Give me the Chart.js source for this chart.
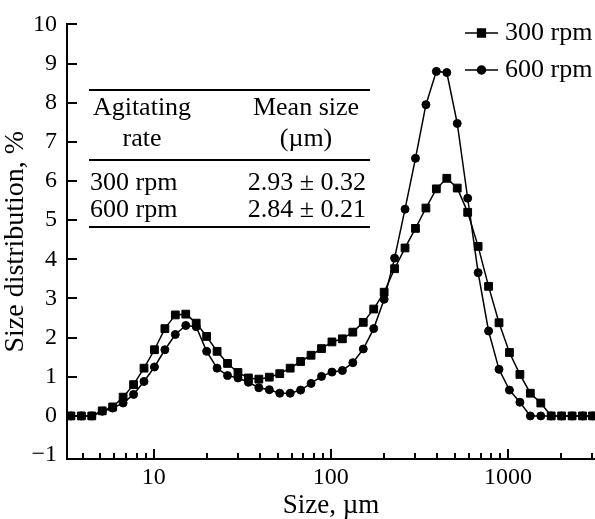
<!DOCTYPE html>
<html>
<head>
<meta charset="utf-8">
<script src="https://cdn.jsdelivr.net/npm/chart.js@4/dist/chart.umd.min.js"></script>
<style>
  html,body{margin:0;padding:0;background:#fff}
  #c{display:block}
</style>
</head>
<body>
<canvas id="c" width="595" height="519"></canvas>
<script>
// particle size bins (µm) and distribution (%)
const sizes=[3.409,3.905,4.472,5.122,5.867,6.720,7.697,8.816,10.097,11.565,13.246,15.172,17.377,
  19.904,22.797,26.111,29.907,34.255,39.234,44.938,51.471,58.953,67.523,77.340,88.583,101.46,
  116.21,133.103,152.453,174.616,200.0,229.075,262.376,300.518,344.206,394.244,451.556,517.2,
  592.387,678.504,777.141,890.116,1019.51,1167.73,1337.48,1531.91,1754.6,2009.68,2301.84,2636.47,3000];
const rpm300=[0,0,0,0.13,0.23,0.48,0.80,1.22,1.69,2.23,2.58,2.60,2.37,
  2.03,1.65,1.34,1.11,0.97,0.94,0.99,1.08,1.22,1.39,1.55,1.72,1.89,
  1.97,2.14,2.39,2.73,3.16,3.76,4.29,4.79,5.31,5.80,
  6.07,5.82,5.20,4.33,3.31,2.38,1.62,1.06,0.58,0.33,0,0,0,0,0];
const rpm600=[0,0,0,0.12,0.20,0.33,0.55,0.88,1.25,1.69,2.08,2.31,2.28,
  1.65,1.22,1.03,0.97,0.86,0.72,0.67,0.58,0.58,0.66,0.83,1.01,1.12,
  1.16,1.36,1.71,2.23,2.98,4.03,5.28,6.58,7.95,8.80,
  8.77,7.47,5.56,3.66,2.17,1.19,0.66,0.35,0,0,0,0,0,0,0];
const seriesLabels=['300 rpm','600 rpm'];
const xTickLabels=[10,100,1000];
const tableHead=[['Agitating','rate'],['Mean size','(µm)']];
const tableRates=['300 rpm','600 rpm'];
const tableMeans=['2.93 ± 0.32','2.84 ± 0.21'];

const FONT='"Liberation Serif","Times New Roman",serif';
Chart.defaults.font.family=FONT;
Chart.defaults.color='#000';

const pts=arr=>arr.map((v,i)=>({x:sizes[i],y:v}));
const styles=['rect','circle'];
const radii=[5.5,4];

function isWholeLog(v){
  const e=Math.floor(Math.log10(v)+1e-9);
  const m=v/Math.pow(10,e);
  return {ok:Math.abs(m-Math.round(m))<1e-6,major:Math.abs(m-1)<1e-6};
}

const decor={
  id:'decor',
  afterDraw(chart){
    const ctx=chart.ctx,xs=chart.scales.x,ys=chart.scales.y,a=chart.chartArea;
    ctx.save();
    ctx.strokeStyle='#000'; ctx.lineWidth=2;
    // inward ticks
    ys.ticks.forEach(t=>{
      if(!Number.isInteger(t.value)||t.value<=-1) return;
      const p=Math.round(ys.getPixelForValue(t.value));
      ctx.beginPath(); ctx.moveTo(a.left,p); ctx.lineTo(a.left+10,p); ctx.stroke();
    });
    xs.ticks.forEach(t=>{
      const w=isWholeLog(t.value); if(!w.ok) return;
      const p=Math.round(xs.getPixelForValue(t.value));
      ctx.beginPath(); ctx.moveTo(p,a.bottom); ctx.lineTo(p,a.bottom-(w.major?10:6)); ctx.stroke();
    });
    // legend
    ctx.font='26px '+FONT; ctx.textBaseline='middle'; ctx.textAlign='left'; ctx.fillStyle='#000';
    seriesLabels.forEach((lab,i)=>{
      const y=33+i*37;
      ctx.lineWidth=1.5;
      ctx.beginPath(); ctx.moveTo(465,y); ctx.lineTo(498,y); ctx.stroke();
      Chart.helpers.drawPoint(ctx,{pointStyle:styles[i],radius:radii[i],borderWidth:1},481.5,y);
      ctx.fill();
      ctx.fillText(lab,505,y);
    });
    // table
    ctx.lineWidth=2;
    [90,160,227].forEach(y=>{ctx.beginPath(); ctx.moveTo(89,y); ctx.lineTo(370,y); ctx.stroke();});
    ctx.textAlign='center';
    tableHead[0].forEach((s,j)=>ctx.fillText(s,142,108+j*31));
    tableHead[1].forEach((s,j)=>ctx.fillText(s,306,108+j*31));
    tableRates.forEach((s,j)=>{ctx.textAlign='left'; ctx.fillText(s,90,183+j*27);});
    tableMeans.forEach((s,j)=>{ctx.textAlign='right'; ctx.fillText(s,366,183+j*27);});
    ctx.restore();
  }
};

new Chart(document.getElementById('c'),{
  type:'line',
  data:{datasets:[
    {label:seriesLabels[0],data:pts(rpm300),pointStyle:styles[0],pointRadius:radii[0],
     borderColor:'#000',backgroundColor:'#000',borderWidth:1.5,pointBorderWidth:1,tension:0},
    {label:seriesLabels[1],data:pts(rpm600),pointStyle:styles[1],pointRadius:radii[1],
     borderColor:'#000',backgroundColor:'#000',borderWidth:1.5,pointBorderWidth:1,tension:0}
  ]},
  options:{
    responsive:false,animation:false,
    layout:{autoPadding:false,padding:{top:22,right:0,bottom:0,left:0}},
    plugins:{legend:{display:false},tooltip:{enabled:false}},
    scales:{
      x:{type:'logarithmic',min:3.24,max:3100,
        grid:{display:false,drawTicks:false},
        border:{display:true,color:'#000',width:2},
        ticks:{autoSkip:false,maxRotation:0,padding:4,font:{size:24},
          callback:v=>xTickLabels.includes(Math.round(v))&&Math.abs(v-Math.round(v))<1e-6?String(Math.round(v)):''},
        title:{display:true,text:'Size, µm',font:{size:27,lineHeight:1},padding:{top:0,bottom:0}},
        afterFit:s=>{s.height=60;s.paddingLeft=0;s.paddingRight=0;}
      },
      y:{min:-1.1,max:10,
        grid:{display:false,drawTicks:false},
        border:{display:true,color:'#000',width:2},
        ticks:{stepSize:1,includeBounds:false,padding:10,font:{size:24},
          callback:v=>Number.isInteger(v)?(v<0?'\u2212'+(-v):String(v)):''},
        title:{display:true,text:'Size distribution, %',font:{size:28,lineHeight:1},padding:{top:2,bottom:0}},
        afterFit:s=>{s.width=67;}
      }
    }
  },
  plugins:[decor]
});
</script>
</body>
</html>
